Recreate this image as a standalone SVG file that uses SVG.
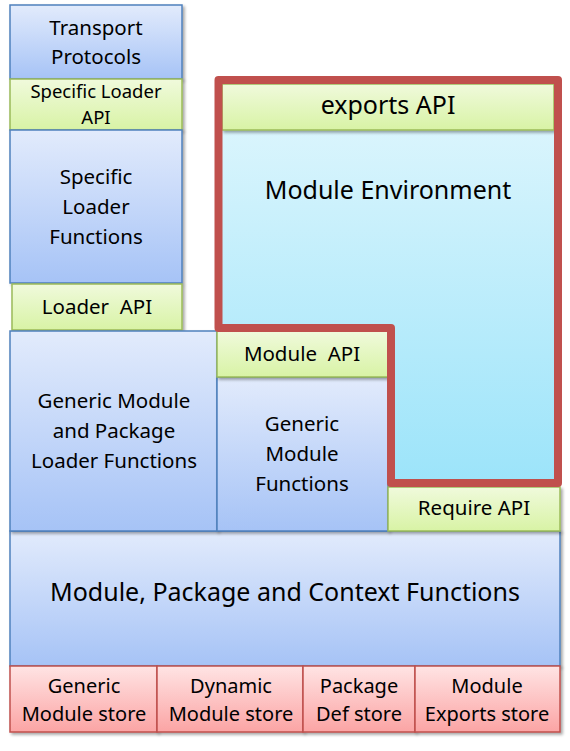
<svg xmlns="http://www.w3.org/2000/svg" width="570" height="751" viewBox="0 0 570 751">
<style>
.blue{fill:url(#gBlue);stroke:#4F81BD;stroke-width:1.5}
.green{fill:url(#gGreen);stroke:#9BBB59;stroke-width:1.5}
.red{fill:url(#gRed);stroke:#C0504D;stroke-width:1.5}
.sh{filter:url(#shadow)}
text{font-family:"Noto Sans","Open Sans",sans-serif;fill:#000;text-anchor:middle;white-space:pre}
.t20{font-size:20.5px}
.ts{font-size:20px}
.t17{font-size:18.5px}
.t22{font-size:25px}
</style>
<defs>
<linearGradient id="gBlue" x1="0" y1="0" x2="0" y2="1">
<stop offset="0" stop-color="#E2EBFC"/><stop offset="1" stop-color="#A6C3F6"/>
</linearGradient>
<linearGradient id="gGreen" x1="0" y1="0" x2="0" y2="1">
<stop offset="0" stop-color="#F0FADC"/><stop offset="1" stop-color="#D8F3A5"/>
</linearGradient>
<linearGradient id="gRed" x1="0" y1="0" x2="0" y2="1">
<stop offset="0" stop-color="#FFE4E4"/><stop offset="1" stop-color="#FBA4A4"/>
</linearGradient>
<linearGradient id="gCyan" x1="0" y1="0" x2="0" y2="1">
<stop offset="0" stop-color="#E2F7FD"/><stop offset="1" stop-color="#9CE4FA"/>
</linearGradient>
<filter id="shadow" x="-10%" y="-10%" width="130%" height="130%">
<feDropShadow dx="2" dy="2" stdDeviation="1.5" flood-color="#000" flood-opacity="0.35"/>
</filter>
</defs>

<g id="transport-protocols">
<rect class="blue sh" x="10" y="5" width="172" height="74"/>
<text class="t20" x="96" y="35">Transport</text>
<text class="t20" x="96" y="64">Protocols</text>
</g>
<g id="specific-loader-api">
<rect class="green sh" x="10" y="79" width="172" height="51"/>
<text class="t17" x="96" y="98">Specific Loader</text>
<text class="t17" x="96" y="124">API</text>
</g>
<g id="specific-loader-functions">
<rect class="blue sh" x="10" y="130" width="172" height="153"/>
<text class="t20" x="96" y="184">Specific</text>
<text class="t20" x="96" y="214">Loader</text>
<text class="t20" x="96" y="244">Functions</text>
</g>
<g id="loader-api">
<rect class="green sh" x="12" y="284" width="170" height="46"/>
<text class="t20" x="97" y="314" xml:space="preserve">Loader  API</text>
</g>

<g id="module-package-context-functions">
<rect class="blue sh" x="10" y="531" width="550" height="135"/>
<text class="t22" x="285" y="601">Module, Package and Context Functions</text>
</g>
<g id="generic-module-package-loader-functions">
<rect class="blue sh" x="10" y="331" width="207" height="200"/>
<text class="t20" x="114" y="408">Generic Module</text>
<text class="t20" x="114" y="438">and Package</text>
<text class="t20" x="114" y="468">Loader Functions</text>
</g>
<g id="generic-module-functions">
<rect class="blue sh" x="217" y="377" width="171" height="154"/>
<text class="t20" x="302" y="431">Generic</text>
<text class="t20" x="302" y="461">Module</text>
<text class="t20" x="302" y="491">Functions</text>
</g>
<g id="module-api">
<rect class="green sh" x="217" y="331" width="171" height="46"/>
<text class="t20" x="302" y="361" xml:space="preserve">Module  API</text>
</g>
<g id="require-api">
<rect class="green sh" x="388" y="487" width="172" height="44"/>
<text class="t20" x="474" y="515">Require API</text>
</g>

<g id="module-environment">
<path d="M218.5,80 H558 V483 H391 V328 H218.5 Z" fill="url(#gCyan)" stroke="none"/>
<rect class="green sh" x="222" y="84" width="332" height="46"/>
<text class="t22" x="388" y="114">exports API</text>
<text class="t22" x="388" y="199">Module Environment</text>
<path d="M218.5,80 H558 V483 H391 V328 H218.5 Z" fill="none" stroke="#C0504D" stroke-width="8" stroke-linejoin="round"/>
</g>

<g id="generic-module-store">
<rect class="red sh" x="10" y="666" width="147" height="66"/>
<text class="ts" x="84" y="693">Generic</text>
<text class="ts" x="84" y="721">Module store</text>
</g>
<g id="dynamic-module-store">
<rect class="red sh" x="157" y="666" width="146" height="66"/>
<text class="ts" x="231" y="693">Dynamic</text>
<text class="ts" x="231" y="721">Module store</text>
</g>
<g id="package-def-store">
<rect class="red sh" x="303" y="666" width="112" height="66"/>
<text class="ts" x="359" y="693">Package</text>
<text class="ts" x="359" y="721">Def store</text>
</g>
<g id="module-exports-store">
<rect class="red sh" x="415" y="666" width="145" height="66"/>
<text class="ts" x="487" y="693">Module</text>
<text class="ts" x="487" y="721">Exports store</text>
</g>

<g id="connectors"></g>
</svg>
